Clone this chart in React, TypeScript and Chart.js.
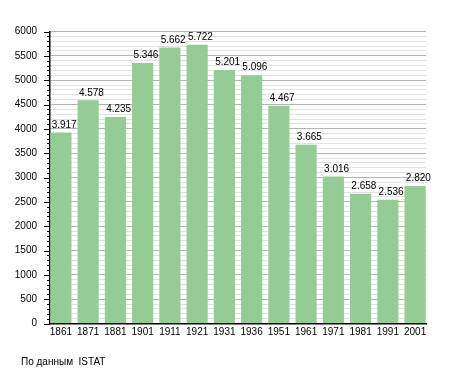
import React, { useEffect, useRef } from "react";
import { Chart, registerables } from "chart.js";

Chart.register(...registerables);

const years = ["1861", "1871", "1881", "1901", "1911", "1921", "1931", "1936", "1951", "1961", "1971", "1981", "1991", "2001"];
const population = [3917, 4578, 4235, 5346, 5662, 5722, 5201, 5096, 4467, 3665, 3016, 2658, 2536, 2820];
const valueLabels = ["3.917", "4.578", "4.235", "5.346", "5.662", "5.722", "5.201", "5.096", "4.467", "3.665", "3.016", "2.658", "2.536", "2.820"];
const footerText = "По данным  ISTAT";

const FONT = "Liberation Sans, Arial, sans-serif";

const overlay = {
  id: "overlay",
  afterDatasetsDraw(chart: any) {
    const ctx = chart.ctx;
    const meta = chart.getDatasetMeta(0);
    ctx.save();
    ctx.fillStyle = "#000";
    ctx.font = `10px ${FONT}`;
    ctx.textAlign = "left";
    ctx.textBaseline = "alphabetic";
    meta.data.forEach((bar: any, i: number) => {
      const left = bar.x - bar.width / 2;
      ctx.fillText(valueLabels[i], left + 1, bar.y - 5);
    });
    // y-axis tick marks
    const y = chart.scales.y;
    const area = chart.chartArea;
    ctx.strokeStyle = "#000";
    ctx.lineWidth = 1;
    for (let v = 0; v <= 6000; v += 100) {
      const py = Math.round(y.getPixelForValue(v)) + 0.5;
      const len = v % 500 === 0 ? 6 : 3;
      ctx.beginPath();
      ctx.moveTo(area.left - len, py);
      ctx.lineTo(area.left, py);
      ctx.stroke();
    }
    // footer
    ctx.font = `10px ${FONT}`;
    ctx.textBaseline = "middle";
    ctx.fillText(footerText, 21, 362);
    ctx.restore();
  },
};

export default function App() {
  const ref = useRef<HTMLCanvasElement>(null);
  useEffect(() => {
    if (!ref.current) return;
    const chart = new Chart(ref.current, {
      type: "bar",
      data: {
        datasets: [
          {
            data: population.map((v, i) => ({ x: i, y: v })),
            backgroundColor: "#95cb95",
            borderWidth: 0,
            barThickness: 20.5,
          },
        ],
      },
      options: {
        responsive: false,
        animation: false,
        devicePixelRatio: 1,
        layout: { padding: { top: 31.5, right: 29, left: 0, bottom: 0 } },
        plugins: { legend: { display: false }, tooltip: { enabled: false } },
        scales: {
          x: {
            type: "linear",
            min: -0.4,
            max: 13.4,
            offset: false,
            afterFit: (s: any) => {
              s.height = 49.5;
            },
            afterBuildTicks: (s: any) => {
              s.ticks = years.map((_, i) => ({ value: i }));
            },
            grid: { display: false, drawTicks: false },
            border: { display: true, color: "#000", width: 1.5 },
            ticks: {
              color: "#000",
              font: { family: FONT, size: 10 },
              padding: 3,
              maxRotation: 0,
              autoSkip: false,
              callback: (v: any) => years[v] ?? "",
            },
          },
          y: {
            min: 0,
            max: 6000,
            afterFit: (s: any) => {
              s.width = 50;
            },
            grid: {
              drawTicks: false,
              color: (c: any) => (c.tick && c.tick.value % 500 === 0 ? "#b4b4b4" : "#e2e2e2"),
              lineWidth: 1,
            },
            border: { display: true, color: "#000", width: 1.5 },
            ticks: {
              stepSize: 100,
              autoSkip: false,
              color: "#000",
              font: { family: FONT, size: 10 },
              padding: 13,
              callback: (v: any) => (v % 500 === 0 ? String(v) : ""),
            },
          },
        },
      },
      plugins: [overlay],
    });
    return () => chart.destroy();
  }, []);
  return (
    <div style={{ position: "fixed", left: 0, top: 0, width: 455, height: 373, background: "#fff" }}>
      <canvas ref={ref} width={455} height={373} />
    </div>
  );
}
